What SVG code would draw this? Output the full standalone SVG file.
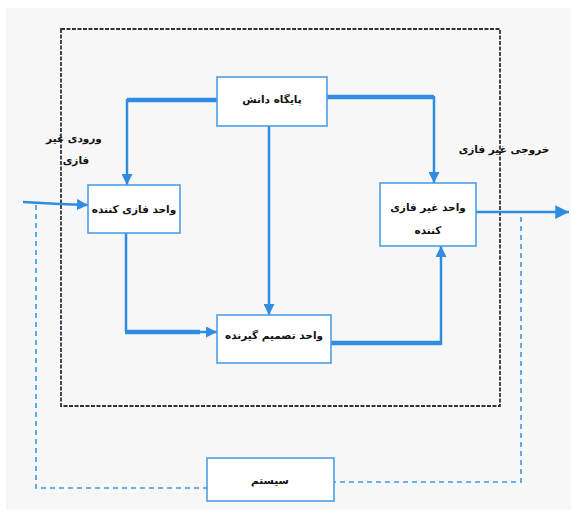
<svg xmlns="http://www.w3.org/2000/svg" width="571" height="511" viewBox="0 0 571 511">
<style>
.box{fill:#ffffff;stroke:#4b9fe6;stroke-width:1.6}
.t{font-family:"DejaVu Sans",sans-serif;font-weight:bold;font-size:10.5px;fill:#111;text-anchor:middle;direction:rtl}
.c{fill:none;stroke:#2f8ce0;stroke-width:2.5}
.ct{fill:none;stroke:#2f8ce0;stroke-width:4.5}
.fb{fill:none;stroke:#3c96e6;stroke-width:1.6;stroke-dasharray:5,4}
.sys{fill:none;stroke:#2c3444;stroke-width:1.8;stroke-dasharray:4,1.5}
</style>
<defs>
<marker id="ah" viewBox="0 0 10 10" refX="10" refY="5" markerWidth="4.4" markerHeight="4.4" orient="auto" markerUnits="strokeWidth">
<path d="M0,0 L10,5 L0,10 z" fill="#2f8ce0"/>
</marker>
<marker id="ah2" viewBox="0 0 10 10" refX="10" refY="5" markerWidth="5.5" markerHeight="5.5" orient="auto" markerUnits="strokeWidth">
<path d="M0,0 L10,5 L0,10 z" fill="#2f8ce0"/>
</marker>
</defs>
<rect x="6" y="8" width="565" height="502" fill="#f7f7f7"/>
<rect class="sys" x="61" y="29" width="439" height="377"/>
<g id="connectors">
<path class="ct" d="M217,100 H127"/>
<path class="c" d="M127,99 V185" marker-end="url(#ah)"/>
<path class="ct" d="M327,97 H434"/>
<path class="c" d="M434,96 V183" marker-end="url(#ah)"/>
<path class="c" d="M269,126 V315" marker-end="url(#ah)"/>
<path class="c" d="M126,233 V332"/>
<path class="ct" d="M125,332 H200"/>
<path class="c" d="M198,332 H217" marker-end="url(#ah)"/>
<path class="ct" d="M331,343 H441"/>
<path class="c" d="M441,345 V246" marker-end="url(#ah)"/>
<path class="c" d="M23,202 L60,204 L88,205" marker-end="url(#ah)"/>
<path class="c" d="M476,212 H569" marker-end="url(#ah2)"/>
<path class="fb" d="M36,205 V488 H207"/>
<path class="fb" d="M521,217 V482 H334"/>
</g>
<g id="knowledge"><rect class="box" x="217" y="77" width="110" height="49"/><text class="t" x="272" y="103">پایگاه دانش</text></g>
<g id="fuzzifier"><rect class="box" x="88" y="185" width="92" height="48"/><text class="t" x="134" y="213">واحد فازی کننده</text></g>
<g id="defuzzifier"><rect class="box" x="380" y="183" width="96" height="63"/><text class="t" x="428" y="211">واحد غیر فازی</text><text class="t" x="428" y="234">کننده</text></g>
<g id="decision"><rect class="box" x="217" y="315" width="114" height="48"/><text class="t" x="274" y="339">واحد تصمیم گیرنده</text></g>
<g id="system"><rect class="box" x="207" y="458" width="127" height="43"/><text class="t" x="270" y="484">سیستم</text></g>
<g id="labels">
<text class="t" x="74" y="142">ورودی غیر</text>
<text class="t" x="76" y="164">فازی</text>
<text class="t" x="504" y="153">خروجی غیر فازی</text>
</g>
</svg>
